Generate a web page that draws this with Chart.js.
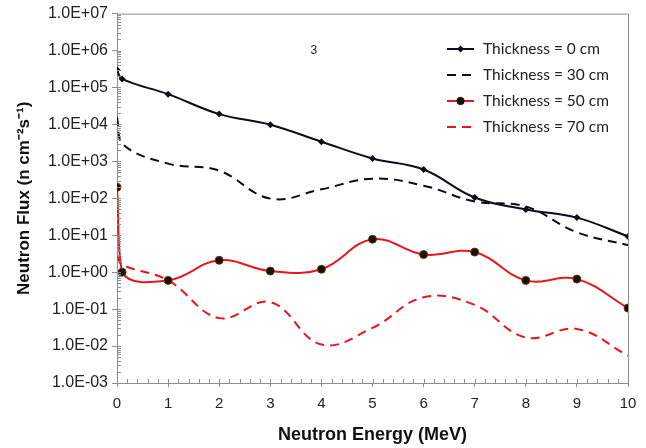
<!DOCTYPE html>
<html>
<head>
<meta charset="utf-8">
<script src="https://cdn.jsdelivr.net/npm/chart.js@4"></script>
<style>
  html, body { margin: 0; padding: 0; background: #fff; }
  #wrap { width: 646px; height: 448px; }
</style>
</head>
<body>
<div id="wrap"><canvas id="c" width="646" height="448"></canvas></div>
<script>
// ---- data ----
const energy = [0, 0.1, 1, 2, 3, 4, 5, 6, 7, 8, 9, 10];
const flux0  = [3.0e5, 1.7e5, 6.6e4, 1.9e4, 9.8e3, 3.4e3, 1.2e3, 6.0e2, 1.05e2, 5.0e1, 3.0e1, 9.3];
const flux30 = [1.6e4, 3.0e3, 8.7e2, 5.6e2, 9.8e1, 1.75e2, 3.4e2, 2.2e2, 8.2e1, 6.0e1, 1.2e1, 5.4];
const flux50 = [2.0e2, 1.0, 0.6, 2.1, 1.07, 1.2, 7.8, 3.0, 3.5, 0.6, 0.65, 0.107];
const flux70 = [2.8, 1.6, 0.6, 0.057, 0.155, 0.011, 0.031, 0.21, 0.13, 0.017, 0.029, 0.0055];
const seriesNames = ['Thickness = 0 cm', 'Thickness = 30 cm', 'Thickness = 50 cm', 'Thickness = 70 cm'];
const yTickValues = [1e-3, 1e-2, 1e-1, 1e0, 1e1, 1e2, 1e3, 1e4, 1e5, 1e6, 1e7];
const yTickLabels = ['1.0E-03', '1.0E-02', '1.0E-01', '1.0E+00', '1.0E+01', '1.0E+02', '1.0E+03', '1.0E+04', '1.0E+05', '1.0E+06', '1.0E+07'];
const xTitle = 'Neutron Energy (MeV)';
const yTitle = 'Neutron Flux (n cm\u207B\u00B2s\u207B\u00B9)';
const noteText = '3';
const notePos = { x: 3.85, y: 1.0e6 };

const RED = '#e8161c';
const BLACK = '#0d0d1a';
const AXIS = '#8e8e8e';

function pts(ys) { return energy.map((x, i) => ({ x: x, y: ys[i] })); }

const minorTicks = {
  id: 'minorTicks',
  afterDraw(chart) {
    const ctx = chart.ctx, ca = chart.chartArea;
    const xs = chart.scales.x, ys = chart.scales.y;
    ctx.save();
    ctx.strokeStyle = AXIS;
    ctx.lineWidth = 1;
    ctx.beginPath();
    ctx.moveTo(ca.left, ca.top + 0.5); ctx.lineTo(ca.right + 0.5, ca.top + 0.5);
    ctx.lineTo(ca.right + 0.5, ca.bottom);
    ctx.stroke();
    ctx.beginPath();
    for (let i = 0; i <= 50; i++) {
      const px = Math.round(xs.getPixelForValue(i * 0.2)) + 0.5;
      ctx.moveTo(px, ca.bottom); ctx.lineTo(px, ca.bottom - 4);
    }
    for (let d = -3; d <= 6; d++) {
      for (let m = 1; m <= 9; m++) {
        const py = Math.round(ys.getPixelForValue(m * Math.pow(10, d))) + 0.5;
        ctx.moveTo(ca.left, py); ctx.lineTo(ca.left + 4, py);
      }
    }
    ctx.stroke();
    ctx.fillStyle = '#222';
    ctx.font = '12px "Liberation Sans", Arial, sans-serif';
    ctx.textAlign = 'center';
    ctx.textBaseline = 'middle';
    ctx.fillText(noteText, xs.getPixelForValue(notePos.x), ys.getPixelForValue(notePos.y));
    ctx.restore();
  }
};

const insideLegend = {
  id: 'insideLegend',
  afterDraw(chart) {
    const ctx = chart.ctx;
    const x0 = 447, x1 = 474, tx = 483, y0 = 49, dy = 26;
    ctx.save();
    chart.data.datasets.forEach((ds, i) => {
      const y = y0 + i * dy;
      ctx.strokeStyle = ds.borderColor;
      ctx.lineWidth = ds.borderWidth;
      ctx.setLineDash(ds.borderDash || []);
      ctx.beginPath(); ctx.moveTo(x0, y); ctx.lineTo(x1, y); ctx.stroke();
      ctx.setLineDash([]);
      if (ds.pointRadius > 0) {
        ctx.fillStyle = ds.pointBackgroundColor;
        ctx.beginPath();
        const cx = (x0 + x1) / 2, r = ds.pointRadius;
        if (ds.pointStyle === 'rectRot') {
          ctx.moveTo(cx, y - r); ctx.lineTo(cx + r, y); ctx.lineTo(cx, y + r); ctx.lineTo(cx - r, y); ctx.closePath();
        } else {
          ctx.arc(cx, y, r, 0, Math.PI * 2);
        }
        ctx.fill();
      }
      ctx.fillStyle = '#222';
      ctx.font = '15.5px Lato, "Open Sans", sans-serif';
      ctx.textAlign = 'left';
      ctx.textBaseline = 'middle';
      ctx.fillText(ds.label, tx, y);
    });
    ctx.restore();
  }
};

new Chart(document.getElementById('c'), {
  type: 'line',
  data: {
    datasets: [
      { label: seriesNames[0], data: pts(flux0), borderColor: BLACK, borderWidth: 2, tension: 0.4,
        pointStyle: 'rectRot', pointRadius: 3.5, pointBackgroundColor: BLACK, pointBorderColor: BLACK, pointBorderWidth: 0 },
      { label: seriesNames[1], data: pts(flux30), borderColor: BLACK, borderWidth: 2, borderDash: [9, 6], tension: 0.4,
        pointRadius: 0 },
      { label: seriesNames[2], data: pts(flux50), borderColor: RED, borderWidth: 2, tension: 0.4,
        pointStyle: 'circle', pointRadius: 4, pointBackgroundColor: '#111', pointBorderColor: '#6b3300', pointBorderWidth: 1 },
      { label: seriesNames[3], data: pts(flux70), borderColor: RED, borderWidth: 2, borderDash: [9, 6], tension: 0.4,
        pointRadius: 0 }
    ]
  },
  options: {
    responsive: false,
    animation: false,
    layout: { padding: { top: 10.4, right: 18, left: 0, bottom: 0 } },
    plugins: { legend: { display: false }, tooltip: { enabled: false } },
    scales: {
      x: {
        type: 'linear', min: 0, max: 10,
        afterFit(s) { s.height = 65; },
        ticks: { stepSize: 1, color: '#222', padding: 8, font: { family: '"Liberation Sans", Arial, sans-serif', size: 15 } },
        grid: { drawOnChartArea: false, color: AXIS, tickLength: 4 },
        border: { color: AXIS, width: 1 },
        title: { display: true, text: xTitle, color: '#111', padding: { top: 4, bottom: 2 },
                 font: { family: '"Liberation Sans", Arial, sans-serif', size: 18, weight: 'bold' } }
      },
      y: {
        type: 'logarithmic', min: 1e-3, max: 1e7,
        afterFit(s) { s.width = 117; },
        afterBuildTicks(s) { s.ticks = yTickValues.map(v => ({ value: v, major: true })); },
        ticks: {
          color: '#222', padding: 4, autoSkip: false,
          font: { family: '"Liberation Sans", Arial, sans-serif', size: 16 },
          callback: (v) => { const i = yTickValues.findIndex(t => Math.abs(Math.log10(t) - Math.log10(v)) < 1e-6); return i >= 0 ? yTickLabels[i] : ''; }
        },
        grid: { drawOnChartArea: false, color: AXIS, tickLength: 5 },
        border: { color: AXIS, width: 1 },
        title: { display: true, text: yTitle, color: '#111', padding: { top: 14, bottom: 4 },
                 font: { family: '"Liberation Sans", Arial, sans-serif', size: 17, weight: 'bold' } }
      }
    }
  },
  plugins: [minorTicks, insideLegend]
});
</script>
</body>
</html>
